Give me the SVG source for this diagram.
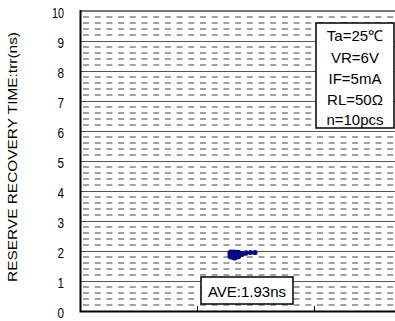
<svg xmlns="http://www.w3.org/2000/svg" width="395" height="321" viewBox="0 0 395 321">
<style>
text{font-family:"Liberation Sans",Arial,sans-serif;fill:#000}
.minor{stroke:#444;stroke-width:1;stroke-dasharray:6 5.7}
.major{stroke:#555;stroke-width:1}
.axis{stroke:#000;stroke-width:2;fill:none}
.tick{font-size:15px;text-anchor:end}
.leg{font-size:15px;text-anchor:middle}
.pt{fill:#000a80}
</style>
<rect width="395" height="321" fill="#fff"/>
<g id="grid">
<g id="minor-lines">
<path class="minor" d="M83 17H395M83 23H395M83 29H395M83 35H395
M83 47H395M83 53H395M83 59H395M83 65H395
M83 77H395M83 83H395M83 89H395M83 95H395
M83 107H395M83 113H395M83 119H395M83 125H395
M83 137H395M83 143H395M83 149H395M83 155H395
M83 167H395M83 173H395M83 179H395M83 185H395
M83 197H395M83 203H395M83 209H395M83 215H395
M83 227H395M83 233H395M83 239H395M83 245H395
M83 257H395M83 263H395M83 269H395M83 275H395
M83 287H395M83 293H395M83 299H395M83 305H395"/>
</g>
<g id="major-lines">
<path class="major" d="M80 41.5H395M80 71.5H395M80 101.5H395M80 131.5H395M80 161.5H395M80 191.5H395M80 221.5H395M80 251.5H395M80 281.5H395"/>
<path stroke="#777" stroke-width="2" d="M80 11H395"/>
</g>
</g>
<g id="axes">
<path class="axis" d="M80.5 10V311.5H395"/>
<path stroke="#000" stroke-width="1" d="M197.5 306V311M314.5 306V311"/>
</g>
<g id="y-labels">
<text class="tick" x="64" y="18" textLength="12" lengthAdjust="spacingAndGlyphs">10</text>
<text class="tick" x="64" y="48" textLength="6.5" lengthAdjust="spacingAndGlyphs">9</text>
<text class="tick" x="64" y="78" textLength="6.5" lengthAdjust="spacingAndGlyphs">8</text>
<text class="tick" x="64" y="108" textLength="6.5" lengthAdjust="spacingAndGlyphs">7</text>
<text class="tick" x="64" y="138" textLength="6.5" lengthAdjust="spacingAndGlyphs">6</text>
<text class="tick" x="64" y="168" textLength="6.5" lengthAdjust="spacingAndGlyphs">5</text>
<text class="tick" x="64" y="198" textLength="6.5" lengthAdjust="spacingAndGlyphs">4</text>
<text class="tick" x="64" y="228" textLength="6.5" lengthAdjust="spacingAndGlyphs">3</text>
<text class="tick" x="64" y="258" textLength="6.5" lengthAdjust="spacingAndGlyphs">2</text>
<text class="tick" x="64" y="288" textLength="6.5" lengthAdjust="spacingAndGlyphs">1</text>
<text class="tick" x="64" y="318" textLength="6.5" lengthAdjust="spacingAndGlyphs">0</text>
</g>
<g id="y-title">
<text font-size="13" text-anchor="middle" textLength="250" lengthAdjust="spacingAndGlyphs" transform="translate(17,157) rotate(-90)">RESERVE RECOVERY TIME:trr(ns)</text>
</g>
<g id="data">
<circle class="pt" cx="231" cy="256" r="3.5"/>
<circle class="pt" cx="231" cy="253" r="3.5"/>
<circle class="pt" cx="234.5" cy="257" r="3.5"/>
<circle class="pt" cx="234.5" cy="253" r="3.5"/>
<circle class="pt" cx="238" cy="256" r="3.3"/>
<circle class="pt" cx="238" cy="253" r="3.3"/>
<circle class="pt" cx="242" cy="254" r="3"/>
<circle class="pt" cx="246" cy="253" r="2.8"/>
<circle class="pt" cx="250.5" cy="252.5" r="2.6"/>
<circle class="pt" cx="255" cy="252.5" r="2.6"/>
</g>
<g id="legend">
<rect x="316" y="23" width="78" height="105" fill="#fff" stroke="#000" stroke-width="1.5"/>
<text class="leg" x="355" y="41">Ta=25℃</text>
<text class="leg" x="355" y="63">VR=6V</text>
<text class="leg" x="355" y="84">IF=5mA</text>
<text class="leg" x="355" y="105">RL=50Ω</text>
<text class="leg" x="355" y="125">n=10pcs</text>
</g>
<g id="average">
<rect x="201" y="277" width="92" height="27" fill="#fff" stroke="#000" stroke-width="1.5"/>
<text class="leg" x="247" y="297">AVE:1.93ns</text>
</g>
</svg>
